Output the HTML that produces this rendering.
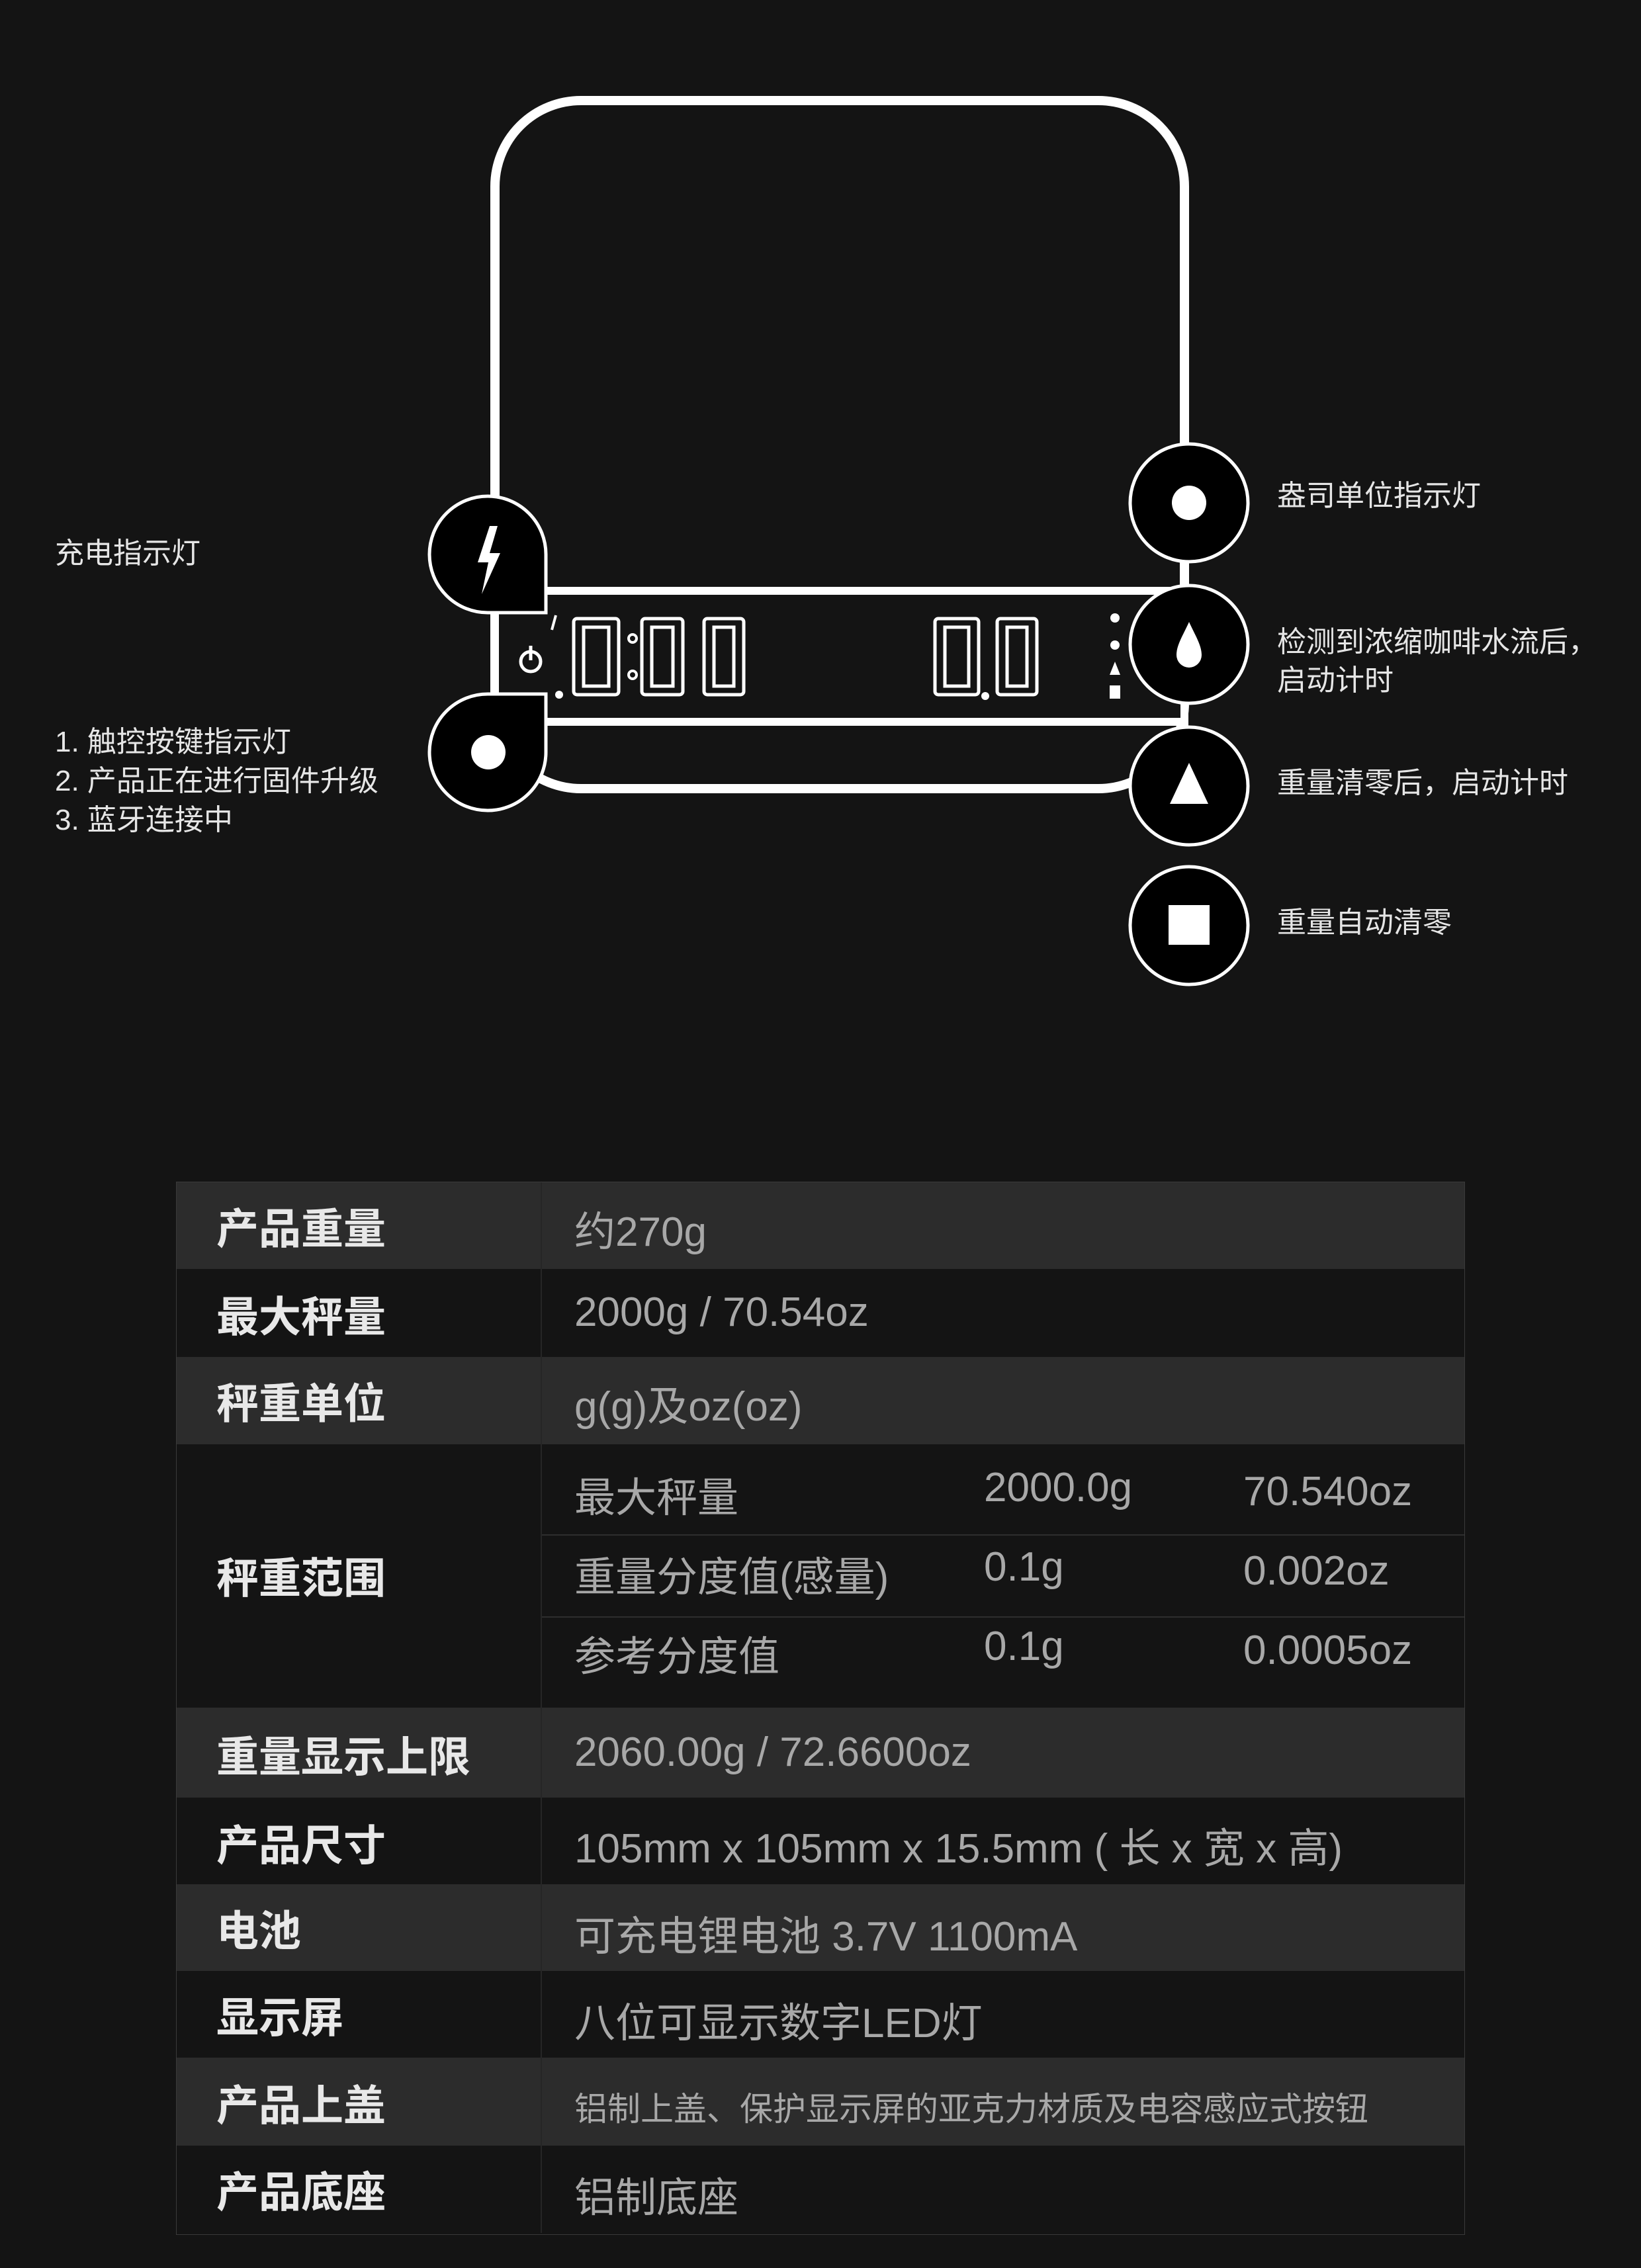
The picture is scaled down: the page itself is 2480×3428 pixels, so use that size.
<!DOCTYPE html>
<html><head><meta charset="utf-8">
<style>
html,body{margin:0;padding:0;background:#141414;}
body{width:2480px;height:3428px;position:relative;overflow:hidden;font-family:"Liberation Sans","Noto Sans CJK SC",sans-serif;}
.t{position:absolute;color:#e6e6e6;font-size:44px;line-height:58px;white-space:nowrap;}
.row{position:absolute;left:267px;width:1946px;}
.lab{position:absolute;left:60px;color:#e8e8e8;font-weight:bold;font-size:64px;white-space:nowrap;margin-top:-8px;}
.val{position:absolute;left:601px;color:#a8a8a8;font-size:62px;white-space:nowrap;}
</style></head><body>
<svg width="2480" height="1600" style="position:absolute;left:0;top:0" xmlns="http://www.w3.org/2000/svg">
 <rect x="748" y="152" width="1042" height="1040" rx="130" fill="none" stroke="#fff" stroke-width="14"/>
 <rect x="748" y="893" width="1042" height="198" fill="#141414" stroke="#fff" stroke-width="12"/>
 <rect x="760" y="900" width="1020" height="184" fill="#141414"/>
 <path d="M825,838 A88,88 0 1 0 737,926 L825,926 Z" fill="#000" stroke="#fff" stroke-width="5"/>
 <path d="M825,1137 A88,88 0 1 1 737,1049 L825,1049 Z" fill="#000" stroke="#fff" stroke-width="5"/>
 <polygon points="740,795 722,850 738,850 728,898 756,836 740,836 752,795" fill="#fff"/>
 <ellipse cx="738" cy="1137" rx="26" ry="26" fill="#fff"/>
 <g fill="#000" stroke="#fff" stroke-width="5">
  <circle cx="1797" cy="760" r="89"/>
  <circle cx="1797" cy="974" r="89"/>
  <circle cx="1797" cy="1188" r="89"/>
  <circle cx="1797" cy="1399" r="89"/>
 </g>
 <circle cx="1797" cy="760" r="26" fill="#fff"/>
 <path d="M1797,940 C1788,960 1778,975 1778,990 A19,19 0 0 0 1816,990 C1816,975 1806,960 1797,940 Z" fill="#fff"/>
 <polygon points="1797,1153 1768,1215 1826,1215" fill="#fff"/>
 <rect x="1766" y="1368" width="62" height="60" fill="#fff"/>
 <g fill="none" stroke="#fff" stroke-width="5">
  <circle cx="802" cy="1000" r="15"/>
 </g>
 <line x1="802" y1="976" x2="802" y2="998" stroke="#fff" stroke-width="5"/>
 <path d="M840,930 l-6,22" stroke="#fff" stroke-width="4"/>
 <g fill="none" stroke="#fff" stroke-width="5">
  <rect x="867" y="935" width="68" height="115" rx="5"/>
  <rect x="882" y="948" width="38" height="89"/>
  <rect x="970" y="935" width="62" height="115" rx="5"/>
  <rect x="985" y="948" width="32" height="89"/>
  <rect x="1064" y="935" width="60" height="115" rx="5"/>
  <rect x="1079" y="948" width="30" height="89"/>
  <rect x="1413" y="935" width="66" height="115" rx="5"/>
  <rect x="1428" y="948" width="36" height="89"/>
  <rect x="1507" y="935" width="60" height="115" rx="5"/>
  <rect x="1522" y="948" width="30" height="89"/>
 </g>
 <circle cx="956" cy="965" r="6" fill="none" stroke="#fff" stroke-width="4"/>
 <circle cx="956" cy="1020" r="6" fill="none" stroke="#fff" stroke-width="4"/>
 <circle cx="845" cy="1050" r="6" fill="#fff"/>
 <circle cx="1489" cy="1052" r="6" fill="#fff"/>
 <circle cx="1685" cy="934" r="7" fill="#fff"/>
 <circle cx="1685" cy="975" r="7" fill="#fff"/>
 <polygon points="1685,1000 1677,1020 1693,1020" fill="#fff"/>
 <rect x="1677" y="1036" width="16" height="20" fill="#fff"/>
</svg>
<div class="t" style="left:83px;top:808px;">充电指示灯</div>
<div class="t" style="left:83px;top:1092px;line-height:59px;">1. 触控按键指示灯<br>2. 产品正在进行固件升级<br>3. 蓝牙连接中</div>
<div class="t" style="left:1930px;top:721px;">盎司单位指示灯</div>
<div class="t" style="left:1930px;top:942px;">检测到浓缩咖啡水流后，<br>启动计时</div>
<div class="t" style="left:1930px;top:1155px;">重量清零后，启动计时</div>
<div class="t" style="left:1930px;top:1366px;">重量自动清零</div>

<div style="position:absolute;left:266px;top:1786px;width:1946px;height:1590px;border:1px solid #3a3a3a;"></div>
<div class="row" style="top:1787px;height:131px;background:#2c2c2c"><div class="lab" style="top:28px">产品重量</div><div class="val" style="top:24px">约270g</div></div>
<div class="row" style="top:1918px;height:133px;background:#141414"><div class="lab" style="top:30px">最大秤量</div><div class="val" style="top:30px">2000g / 70.54oz</div></div>
<div class="row" style="top:2051px;height:132px;background:#2c2c2c"><div class="lab" style="top:28px">秤重单位</div><div class="val" style="top:24px">g(g)及oz(oz)</div></div>
<div class="row" style="top:2183px;height:398px;background:#141414">
 <div class="lab" style="top:160px">秤重范围</div>
 <div style="position:absolute;left:551px;top:136px;width:1395px;height:2px;background:#2e2e2e"></div>
 <div style="position:absolute;left:551px;top:260px;width:1395px;height:2px;background:#2e2e2e"></div>
 <div class="val" style="top:30px">最大秤量</div><div class="val" style="left:1220px;top:30px">2000.0g</div><div class="val" style="left:1612px;top:36px">70.540oz</div>
 <div class="val" style="top:150px">重量分度值(感量)</div><div class="val" style="left:1220px;top:150px">0.1g</div><div class="val" style="left:1612px;top:156px">0.002oz</div>
 <div class="val" style="top:270px">参考分度值</div><div class="val" style="left:1220px;top:270px">0.1g</div><div class="val" style="left:1612px;top:276px">0.0005oz</div>
</div>
<div class="row" style="top:2581px;height:136px;background:#2c2c2c"><div class="lab" style="top:32px">重量显示上限</div><div class="val" style="top:32px">2060.00g / 72.6600oz</div></div>
<div class="row" style="top:2717px;height:131px;background:#141414"><div class="lab" style="top:30px">产品尺寸</div><div class="val" style="top:26px">105mm x 105mm x 15.5mm ( 长 x 宽 x 高)</div></div>
<div class="row" style="top:2848px;height:131px;background:#2c2c2c"><div class="lab" style="top:28px">电池</div><div class="val" style="top:28px">可充电锂电池 3.7V 1100mA</div></div>
<div class="row" style="top:2979px;height:131px;background:#141414"><div class="lab" style="top:28px">显示屏</div><div class="val" style="top:28px">八位可显示数字LED灯</div></div>
<div class="row" style="top:3110px;height:133px;background:#2c2c2c"><div class="lab" style="top:30px">产品上盖</div><div class="val" style="top:38px;font-size:50px">铝制上盖、保护显示屏的亚克力材质及电容感应式按钮</div></div>
<div class="row" style="top:3243px;height:132px;background:#141414"><div class="lab" style="top:28px">产品底座</div><div class="val" style="top:28px">铝制底座</div></div>
<div style="position:absolute;left:817px;top:1787px;width:2px;height:1588px;background:#262626"></div>
</body></html>
